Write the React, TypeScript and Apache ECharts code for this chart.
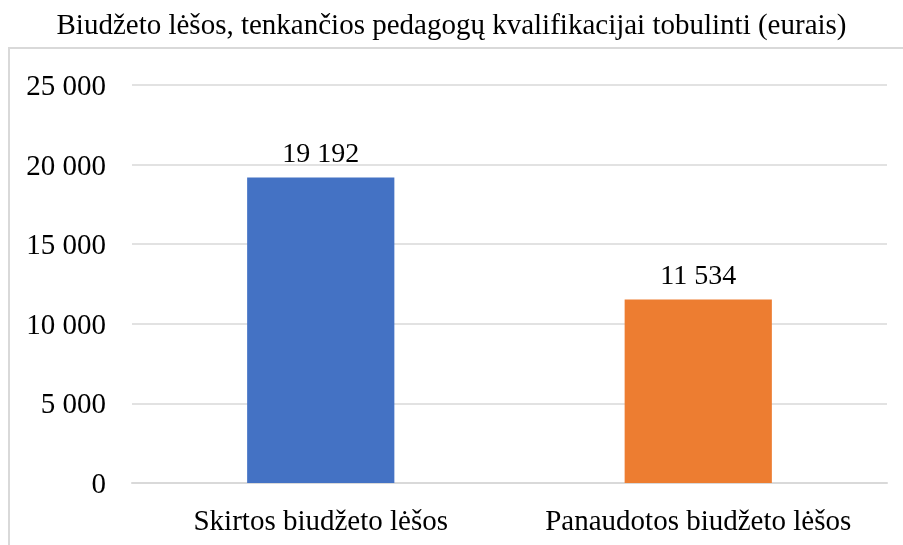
import React, { useEffect, useRef } from "react";
import * as echarts from "echarts";

const categories = ["Skirtos biudžeto lėšos", "Panaudotos biudžeto lėšos"];
const values = [19192, 11534];
const barColors = ["#4472C4", "#ED7D31"];
const yTicks = [0, 5000, 10000, 15000, 20000, 25000];

const fmt = (v: number) => String(v).replace(/\B(?=(\d{3})+(?!\d))/g, " ");

export default function App() {
  const ref = useRef<HTMLDivElement>(null);
  useEffect(() => {
    if (!ref.current) return;
    const chart = echarts.init(ref.current, null, { renderer: "svg" });
    const font = "'Liberation Serif', 'Times New Roman', serif";
    chart.setOption({
      animation: false,
      title: {
        text: "Biudžeto lėšos, tenkančios pedagogų kvalifikacijai tobulinti (eurais)",
        left: "center",
        top: 4,
        textStyle: { fontFamily: font, fontSize: 29, fontWeight: "normal", color: "#000" },
      },
      graphic: [
        {
          type: "rect",
          shape: { x: 9, y: 48, width: 1000, height: 600 },
          style: { fill: "none", stroke: "#d9d9d9", lineWidth: 2 },
          silent: true,
        },
      ],
      grid: { left: 132, right: 16, top: 85, bottom: 62 },
      xAxis: {
        type: "category",
        data: categories,
        axisLine: { lineStyle: { color: "#d9d9d9", width: 2 } },
        axisTick: { show: false },
        axisLabel: { interval: 0, fontFamily: font, fontSize: 29, color: "#000", margin: 22 },
      },
      yAxis: {
        type: "value",
        min: yTicks[0],
        max: yTicks[yTicks.length - 1],
        interval: 5000,
        axisLine: { show: false },
        axisTick: { show: false },
        splitLine: { lineStyle: { color: "#d9d9d9", width: 1.5 } },
        axisLabel: { fontFamily: font, fontSize: 29, color: "#000", margin: 26, formatter: (v: number) => fmt(v) },
      },
      series: [
        {
          type: "bar",
          data: values.map((v, i) => ({ value: v, itemStyle: { color: barColors[i] } })),
          barWidth: "39%",
          label: {
            show: true,
            position: "top",
            distance: 11,
            fontFamily: font,
            fontSize: 28,
            color: "#000",
            formatter: (p: any) => fmt(p.value),
          },
        },
      ],
    });
    return () => chart.dispose();
  }, []);
  return <div ref={ref} style={{ position: "fixed", left: 0, top: 0, width: 903, height: 545 }} />;
}
